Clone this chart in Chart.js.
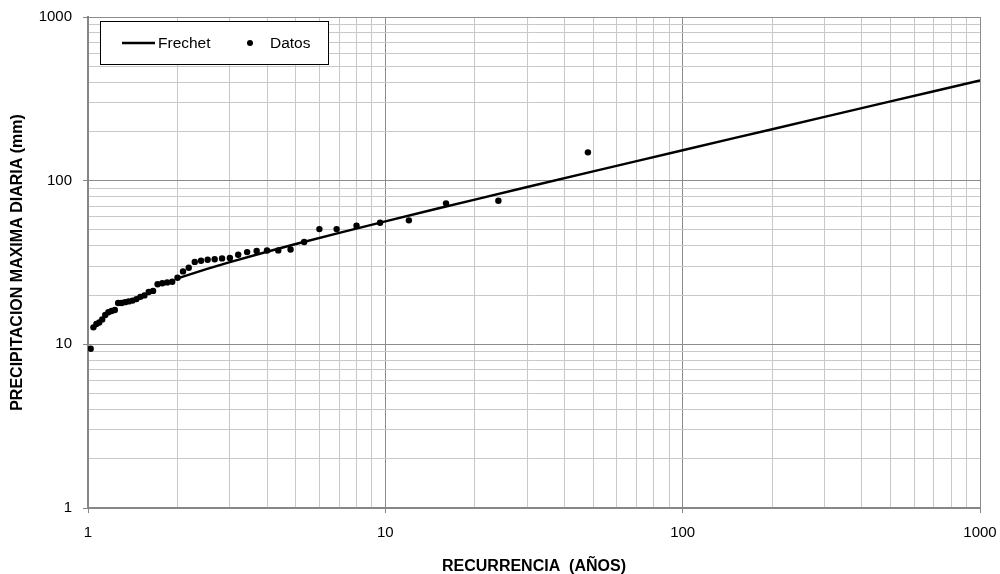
<!DOCTYPE html>
<html>
<head>
<meta charset="utf-8">
<script src="https://cdn.jsdelivr.net/npm/chart.js@4"></script>
<style>
  html, body { margin: 0; padding: 0; background: #fff; }
  #wrap { width: 1000px; height: 574px; position: relative; }
</style>
</head>
<body>
<div id="wrap"><canvas id="chart"></canvas></div>
<script>
/* Periodo de retorno vs precipitacion maxima diaria — ajuste Frechet + datos,
   ejes log-log. */

// datos observados (T en años, P en mm)
const retornoDatos = [1.021, 1.043, 1.067, 1.091, 1.116, 1.143, 1.171, 1.2, 1.231, 1.263,
  1.297, 1.333, 1.371, 1.412, 1.455, 1.5, 1.548, 1.6, 1.655, 1.714, 1.778, 1.846, 1.92, 2,
  2.087, 2.182, 2.286, 2.4, 2.526, 2.667, 2.824, 3, 3.2, 3.429, 3.692, 4, 4.364, 4.8, 5.333,
  6, 6.857, 8, 9.6, 12, 16, 24, 48];
const precipDatos = [9.4, 12.7, 13.3, 13.6, 14.2, 15.1, 15.7, 16.0, 16.2, 17.9,
  17.9, 18.1, 18.3, 18.5, 18.9, 19.5, 19.9, 20.9, 21.2, 23.3, 23.6, 23.9, 24.1, 25.5,
  27.9, 29.4, 31.9, 32.4, 32.9, 33.1, 33.5, 33.7, 35.3, 36.6, 37.2, 37.4, 37.5, 38.0, 42.2,
  50.6, 50.6, 53.0, 55.3, 57.2, 72.7, 75.4, 148.9];

// curva Frechet
const retornoFrechet = [2, 2.5, 3, 4, 5, 7, 10, 15, 20, 30, 50, 70, 100, 150, 200, 300, 500, 700, 1000];
const precipFrechet = [25.3, 28.8, 31.8, 36.8, 41.0, 48.0, 56.4, 67.6, 76.6, 91.4, 114.0, 131.7,
  153.5, 182.5, 206.4, 245.4, 305.1, 352.2, 410];

// marcas de los ejes
const decadas = [1, 10, 100, 1000];
const marcas = [1, 2, 3, 4, 5, 6, 7, 8, 9, 10, 20, 30, 40, 50, 60, 70, 80, 90,
  100, 200, 300, 400, 500, 600, 700, 800, 900, 1000];

const FONT = "'Liberation Sans', Arial, sans-serif";
const GRID_MAJOR = '#8c8c8c';
const GRID_MINOR = '#c8c8c8';
const AXIS = '#868686';

const toPoints = (xs, ys) => xs.map((x, i) => ({ x, y: ys[i] }));
const esDecada = (v) => decadas.includes(v);

function logAxis(titulo, extra) {
  return Object.assign({
    type: 'logarithmic',
    min: 1,
    max: 1000,
    afterBuildTicks: (scale) => { scale.ticks = marcas.map((v) => ({ value: v })); },
    ticks: {
      autoSkip: false,
      maxRotation: 0,
      padding: 11,
      color: '#000',
      font: { family: FONT, size: 15 },
      callback: (v) => (esDecada(v) ? String(v) : ''),
    },
    grid: {
      color: (c) => (c.tick && esDecada(c.tick.value) ? GRID_MAJOR : GRID_MINOR),
      tickColor: (c) => (c.tick && esDecada(c.tick.value) ? AXIS : 'rgba(0,0,0,0)'),
      tickLength: 5,
      lineWidth: 1,
    },
    border: { color: AXIS, width: 2 },
    title: {
      display: true,
      text: titulo,
      color: '#000',
      font: { family: FONT, size: 16, weight: 'bold' },
    },
  }, extra);
}

const leyenda = {
  id: 'leyenda',
  afterDraw(chart) {
    const ctx = chart.ctx;
    ctx.save();
    ctx.fillStyle = '#fff';
    ctx.fillRect(100.5, 21.5, 228, 43);
    ctx.strokeStyle = '#000';
    ctx.lineWidth = 1;
    ctx.strokeRect(100.5, 21.5, 228, 43);
    ctx.beginPath();
    ctx.moveTo(122, 43);
    ctx.lineTo(155, 43);
    ctx.lineWidth = 2.5;
    ctx.stroke();
    ctx.fillStyle = '#000';
    ctx.beginPath();
    ctx.arc(250, 43, 3, 0, Math.PI * 2);
    ctx.fill();
    ctx.font = '15.5px ' + FONT;
    ctx.textBaseline = 'middle';
    ctx.fillText('Frechet', 158, 44);
    ctx.fillText('Datos', 270, 44);
    ctx.restore();
  },
};

new Chart(document.getElementById('chart'), {
  type: 'scatter',
  data: {
    datasets: [
      {
        label: 'Frechet',
        data: toPoints(retornoFrechet, precipFrechet),
        showLine: true,
        borderColor: '#000',
        borderWidth: 2.5,
        pointRadius: 0,
        tension: 0,
      },
      {
        label: 'Datos',
        data: toPoints(retornoDatos, precipDatos),
        showLine: false,
        backgroundColor: '#000',
        borderColor: '#000',
        pointRadius: 3.2,
        borderWidth: 0,
      },
    ],
  },
  options: {
    responsive: true,
    maintainAspectRatio: false,
    animation: false,
    layout: { padding: { top: 17, right: 20, left: 0, bottom: 0 } },
    plugins: { legend: { display: false }, tooltip: { enabled: false } },
    scales: {
      x: logAxis('RECURRENCIA  (AÑOS)', {
        position: 'bottom',
        afterFit: (s) => { s.height = 66; s.paddingLeft = 0; s.paddingRight = 0; },
        title: {
          display: true,
          text: 'RECURRENCIA  (AÑOS)',
          color: '#000',
          font: { family: FONT, size: 16, weight: 'bold' },
          padding: { top: 0, bottom: -2 },
        },
      }),
      y: logAxis('PRECIPITACION MAXIMA DIARIA (mm)', {
        position: 'left',
        afterFit: (s) => { s.width = 88; s.paddingTop = 0; s.paddingBottom = 0; },
        title: {
          display: true,
          text: 'PRECIPITACION MAXIMA DIARIA (mm)',
          color: '#000',
          font: { family: FONT, size: 16, weight: 'bold' },
          padding: { top: 8, bottom: 0 },
        },
      }),
    },
  },
  plugins: [leyenda],
});
</script>
</body>
</html>
